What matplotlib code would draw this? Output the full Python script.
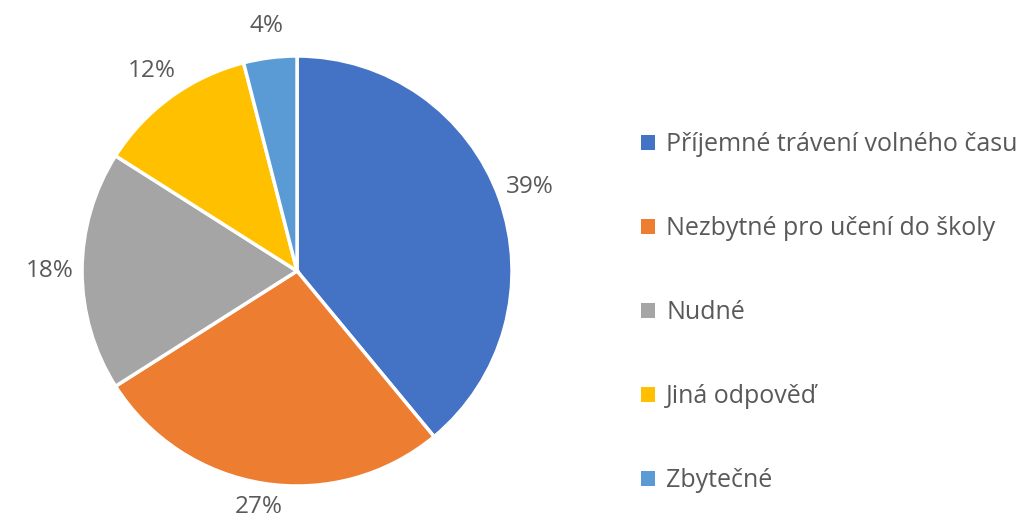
import matplotlib.pyplot as plt

plt.rcParams['font.family'] = ['Open Sans', 'DejaVu Sans']

labels = ['Příjemné trávení volného času', 'Nezbytné pro učení do školy',
          'Nudné', 'Jiná odpověď', 'Zbytečné']
values = [39, 27, 18, 12, 4]
colors = ['#4472C4', '#ED7D31', '#A5A5A5', '#FFC000', '#5B9BD5']
text_color = '#595959'

fig = plt.figure(figsize=(10.19, 5.25), dpi=100)
ax = fig.add_axes([0.0805, 0.0743, 0.422, 0.819])

pct = [f'{v}%' for v in values]
wedges, texts = ax.pie(values, labels=pct, colors=colors, startangle=90,
                       counterclock=False, labeldistance=1.15,
                       wedgeprops=dict(edgecolor='white', linewidth=2.5))
for t in texts:
    t.set_ha('center')
    t.set_va('center')
    t.set_color(text_color)
    t.set_fontsize(17.5)
# bottom label sits right at the edge, nudge it up a bit
x27, y27 = texts[1].get_position()
texts[1].set_position((x27, y27 + 0.04))
ax.set_xlim(-1, 1)
ax.set_ylim(-1, 1)
ax.set_aspect('equal')

leg = fig.legend(wedges, labels, loc='center left', bbox_to_anchor=(0.607, 0.405),
                 frameon=False, fontsize=18, labelspacing=2.36,
                 handlelength=0.55, handleheight=0.55, handletextpad=0.45)
for t in leg.get_texts():
    t.set_color(text_color)
for h in leg.legend_handles:
    h.set_edgecolor('none')

fig.savefig('out.png', dpi=100)
